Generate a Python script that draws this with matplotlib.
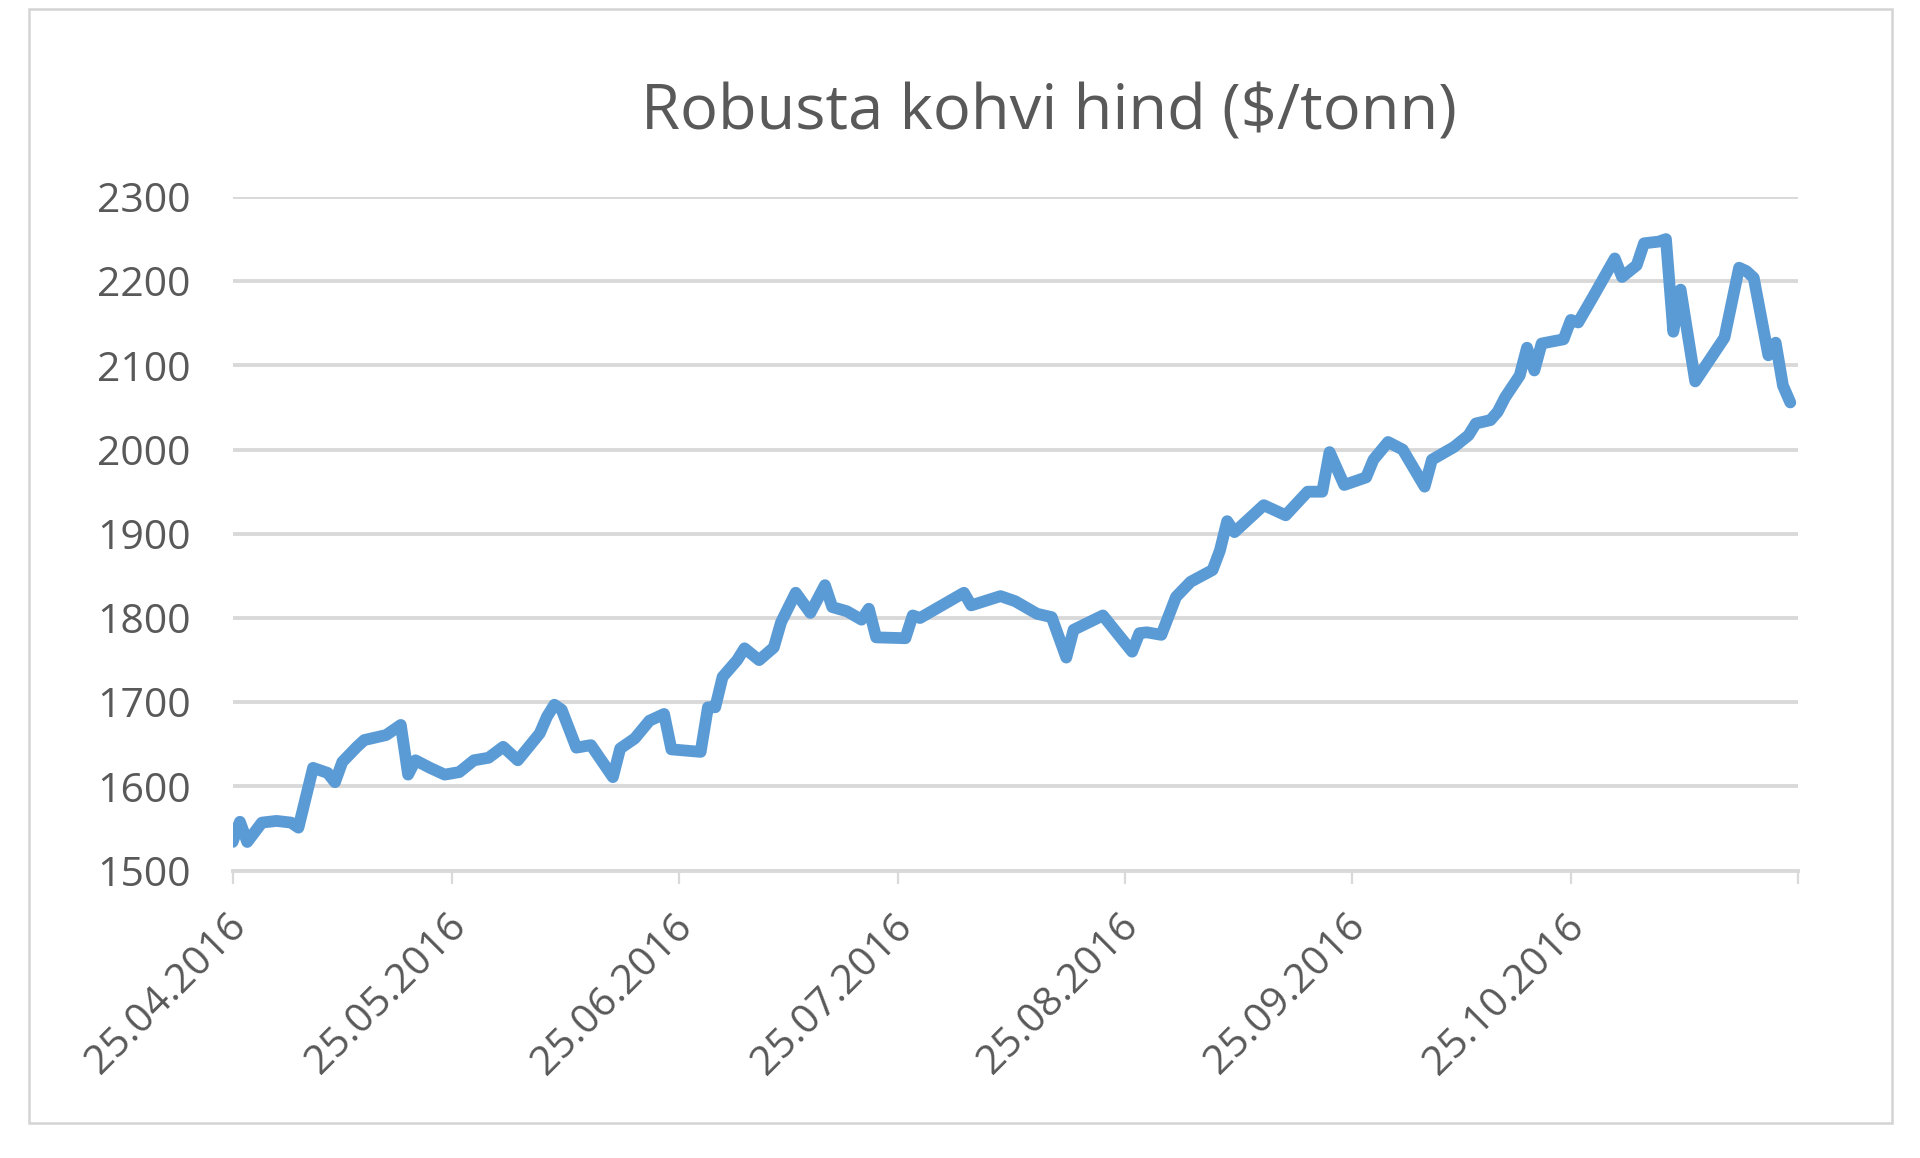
import matplotlib
matplotlib.use("Agg")
import matplotlib.pyplot as plt
import pandas as pd
from matplotlib.patches import Rectangle

# ---- data ----
start_date = "2016-04-25"
day_offsets = [0, 1, 2, 4, 6, 8, 9, 11, 13, 14, 15, 17, 18, 21, 23, 24, 25, 27, 29, 31,
               33, 35, 37, 39, 42, 43, 44, 45, 47, 49, 52, 53, 55, 57, 59, 60, 64, 65, 66, 67,
               69, 70, 72, 74, 75, 77, 79, 81, 82, 84, 86, 87, 88, 92, 93, 94, 96, 100, 101, 105,
               107, 110, 112, 114, 115, 119, 123, 124, 125, 127, 129, 131, 134, 135, 136, 137, 141, 144, 147, 149,
               150, 152, 155, 156, 158, 160, 163, 164, 167, 169, 170, 172, 173, 174, 176, 177, 178, 179, 182, 183,
               184, 186, 189, 190, 192, 193, 195, 196, 197, 198, 200, 204, 206, 207, 208, 210, 211, 212, 213]
prices = [1534, 1558, 1534, 1557, 1559, 1557, 1551, 1622, 1616, 1605, 1629, 1647, 1655, 1661, 1673, 1614, 1631, 1622, 1614, 1617,
          1631, 1634, 1647, 1631, 1663, 1683, 1697, 1691, 1646, 1649, 1611, 1645, 1657, 1678, 1686, 1644, 1641, 1694, 1694, 1730,
          1750, 1764, 1750, 1765, 1795, 1830, 1806, 1839, 1813, 1808, 1798, 1811, 1777, 1776, 1803, 1800, 1810, 1830, 1815, 1826,
          1820, 1805, 1801, 1753, 1786, 1803, 1760, 1782, 1783, 1780, 1825, 1843, 1857, 1880, 1915, 1902, 1934, 1922, 1950, 1950,
          1997, 1958, 1967, 1988, 2009, 2000, 1956, 1988, 2003, 2017, 2031, 2035, 2045, 2062, 2088, 2121, 2094, 2126, 2131, 2154,
          2151, 2181, 2227, 2205, 2219, 2245, 2247, 2250, 2140, 2190, 2081, 2133, 2216, 2212, 2204, 2112, 2127, 2076, 2056]
tick_dates = ["2016-04-25", "2016-05-25", "2016-06-25", "2016-07-25", "2016-08-25",
              "2016-09-25", "2016-10-25", "2016-11-25"]
tick_labels = ["25.04.2016", "25.05.2016", "25.06.2016", "25.07.2016", "25.08.2016",
               "25.09.2016", "25.10.2016", ""]
y_ticks = [1500, 1600, 1700, 1800, 1900, 2000, 2100, 2200, 2300]
title = "Robusta kohvi hind ($/tonn)"

plt.rcParams["font.family"] = ["Open Sans", "DejaVu Sans"]
TXT = "#595959"
GRID = "#d9d9d9"
W, H = 1920, 1158

dates = pd.Timestamp(start_date) + pd.to_timedelta(day_offsets, unit="D")
ticks = pd.to_datetime(tick_dates)

fig = plt.figure(figsize=(W / 100, H / 100), dpi=100)
fig.patch.set_facecolor("white")

# outer chart border
fig.patches.append(Rectangle((29.4 / W, 1 - 1123 / H), (1892 - 29.4) / W, (1123 - 8.6) / H,
                             transform=fig.transFigure, fill=False, edgecolor="#d4d4d4", lw=1.8))

x0, x1, ytop, ybot = 232.6, 1797.6, 197.0, 870.6
ax = fig.add_axes([x0 / W, 1 - ybot / H, (x1 - x0) / W, (ybot - ytop) / H])
ax.plot(dates, prices, color="#5B9BD5", lw=8.5, solid_joinstyle="round",
        solid_capstyle="round", zorder=3)

ax.set_ylim(y_ticks[0], y_ticks[-1])
ax.set_yticks(y_ticks)
ax.set_xlim(ticks[0], ticks[-1])
ax.set_xticks(ticks)
ax.set_xticklabels(tick_labels, rotation=45, ha="right", va="center", rotation_mode="anchor")

ax.grid(axis="y", color=GRID, lw=2.8, zorder=1)
ax.set_axisbelow(True)
for s in ["top", "right", "left"]:
    ax.spines[s].set_visible(False)
ax.spines["bottom"].set_color(GRID)
ax.spines["bottom"].set_linewidth(2.8)
ax.spines["bottom"].set_zorder(1)

ax.tick_params(axis="x", length=9, width=1.6, color=GRID, labelcolor=TXT, labelsize=29.5, pad=27)
ax.tick_params(axis="y", length=0, labelcolor=TXT, labelsize=29.5, pad=30)
for lab in ax.get_xticklabels():
    lab.set_x(lab.get_position()[0])

# nudge x labels slightly to the right, as in the reference
import matplotlib.transforms as mtransforms
offset = mtransforms.ScaledTranslation(8 / 100, 0, fig.dpi_scale_trans)
for lab in ax.get_xticklabels():
    lab.set_transform(lab.get_transform() + offset)

fig.text(1049 / W, 1 - 113 / H, title, ha="center", va="center", fontsize=45.5, color=TXT)

fig.savefig("out.png", dpi=100, facecolor="white")
